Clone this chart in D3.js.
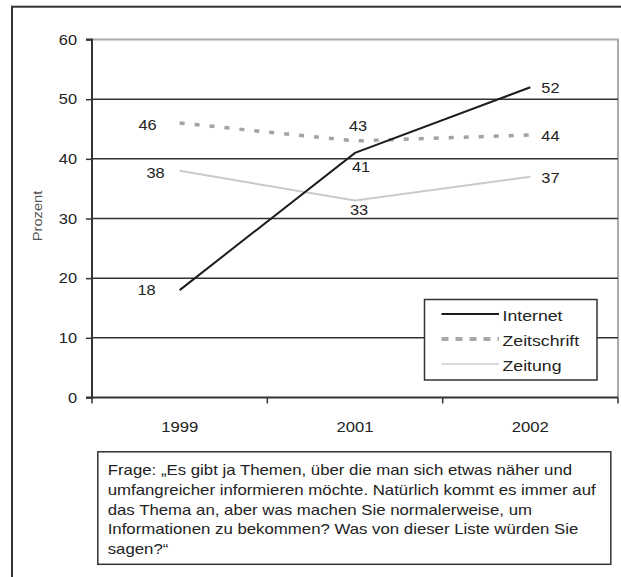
<!DOCTYPE html>
<html>
<head>
<meta charset="utf-8">
<script src="https://cdn.jsdelivr.net/npm/d3@7"></script>
<style>
  html, body { margin: 0; padding: 0; background: #fff; }
  svg { display: block; }
  text { font-family: "Liberation Sans", Arial, sans-serif; fill: #222; }
</style>
</head>
<body>
<svg id="chart" width="621" height="577"></svg>
<script>
// ---- data ----
const years = ["1999", "2001", "2002"];
const internet = [18, 41, 52];
const zeitschrift = [46, 43, 44];
const zeitung = [38, 33, 37];
const seriesNames = ["Internet", "Zeitschrift", "Zeitung"];
const yTicks = [0, 10, 20, 30, 40, 50, 60];
const yTitle = "Prozent";
const questionLines = [
  "Frage: „Es gibt ja Themen, über die man sich etwas näher und",
  "umfangreicher informieren möchte. Natürlich kommt es immer auf",
  "das Thema an, aber was machen Sie normalerweise, um",
  "Informationen zu bekommen? Was von dieser Liste würden Sie",
  "sagen?“"
];

// ---- layout / styles ----
const svg = d3.select("#chart");
const plot = { left: 92, right: 618, top: 39.5, bottom: 397.5 };

const x = d3.scaleBand().domain(years).range([plot.left, plot.right]).paddingInner(0).paddingOuter(0);
const cx = d => x(d) + x.bandwidth() / 2;
const y = d3.scaleLinear().domain([0, 60]).range([plot.bottom, plot.top]);

const styles = {
  Internet:    { stroke: "#1c1c1c", width: 2,   dash: null,   lstroke: "#1c1c1c", lwidth: 2,   ldash: null },
  Zeitschrift: { stroke: "#a3a3a3", width: 3.5, dash: "5 10", lstroke: "#a8a8a8", lwidth: 4,   ldash: "7 7" },
  Zeitung:     { stroke: "#c9c9c9", width: 2,   dash: null,   lstroke: "#cccccc", lwidth: 1.5, ldash: null }
};

// label offsets relative to point (dx, dy, anchor)
const labelPos = {
  Internet:    [[-24, 0, "end"],  [6, 14, "middle"],  [11, 1, "start"]],
  Zeitschrift: [[-23, 2, "end"],  [3, -15, "middle"], [11, 1, "start"]],
  Zeitung:     [[-15, 2, "end"],  [4, 9, "middle"],   [11, 1, "start"]]
};

function sText(g, px, py, str, opt) {
  const o = Object.assign({ size: 14, sx: 1.15, anchor: "start", rotate: 0, fill: "#222" }, opt || {});
  return g.append("text")
    .attr("transform", `translate(${px},${py}) rotate(${o.rotate}) scale(${o.sx},1)`)
    .attr("text-anchor", o.anchor)
    .attr("dy", "0.35em")
    .style("font-size", o.size + "px")
    .style("fill", o.fill)
    .text(str);
}

// outer frame
svg.append("rect")
  .attr("x", 12).attr("y", 6.7).attr("width", 800).attr("height", 800)
  .attr("fill", "none").attr("stroke", "#333").attr("stroke-width", 2);

// plot area border (top and right, light gray)
svg.append("path")
  .attr("d", `M${plot.left},${plot.top}H${plot.right}V${plot.bottom}`)
  .attr("fill", "none").attr("stroke", "#aaaaaa").attr("stroke-width", 2);

// gridlines
const gridG = svg.append("g");
gridG.selectAll("line").data(yTicks.filter(t => t > 0 && t < 60)).join("line")
  .attr("x1", plot.left).attr("x2", plot.right)
  .attr("y1", d => y(d)).attr("y2", d => y(d))
  .attr("stroke", "#333").attr("stroke-width", 1.5);

// y axis
const yAxis = d3.axisLeft(y).tickValues(yTicks).tickSize(6).tickFormat("");
const yg = svg.append("g").attr("transform", `translate(${plot.left},0)`).call(yAxis);
yg.select(".domain").attr("stroke", "#333").attr("stroke-width", 2).attr("d", `M-6,${plot.top}H0V${plot.bottom}H-6`);
yg.selectAll(".tick line").attr("stroke", "#333").attr("stroke-width", 1.5);
const ylab = svg.append("g");
yTicks.forEach(t => sText(ylab, 77, y(t), String(t), { anchor: "end", size: 14.5, sx: 1.13 }));

// x axis
const xAxis = d3.axisBottom(x).tickSize(0).tickFormat("");
const xg = svg.append("g").attr("transform", `translate(0,${plot.bottom})`).call(xAxis);
xg.select(".domain").attr("stroke", "#333").attr("stroke-width", 2).attr("d", `M${plot.left},0H${plot.right}`);
const edges = years.map(d => x(d)).concat([x.range()[1]]);
xg.selectAll("line.edge").data(edges).join("line").attr("class", "edge")
  .attr("x1", d => d).attr("x2", d => d).attr("y1", 0).attr("y2", 6)
  .attr("stroke", "#333").attr("stroke-width", 1.5);
const xlab = svg.append("g");
years.forEach(d => sText(xlab, cx(d), 427, d, { anchor: "middle", size: 14.5, sx: 1.15 }));

// y title
sText(svg.append("g"), 37.5, 216, yTitle, { anchor: "middle", size: 13, sx: 1.13, rotate: -90, fill: "#555" });

// series
const seriesData = { Internet: internet, Zeitschrift: zeitschrift, Zeitung: zeitung };
const line = d3.line().x((v, i) => cx(years[i])).y(v => y(v));
const drawOrder = ["Zeitung", "Zeitschrift", "Internet"];
drawOrder.forEach(name => {
  const s = styles[name];
  svg.append("path").datum(seriesData[name])
    .attr("d", line).attr("fill", "none")
    .attr("stroke", s.stroke).attr("stroke-width", s.width)
    .attr("stroke-dasharray", s.dash);
});

// data labels
const lblG = svg.append("g");
seriesNames.forEach(name => {
  seriesData[name].forEach((v, i) => {
    const p = labelPos[name][i];
    sText(lblG, cx(years[i]) + p[0], y(v) + p[1], String(v), { anchor: p[2], size: 14.5, sx: 1.13 });
  });
});

// legend
const leg = svg.append("g");
leg.append("rect").attr("x", 424.5).attr("y", 299.5).attr("width", 172.5).attr("height", 80.5)
  .attr("fill", "#fff").attr("stroke", "#333").attr("stroke-width", 1.5);
const legY = d3.scalePoint().domain(seriesNames).range([314, 364]);
seriesNames.forEach(name => {
  const s = styles[name];
  leg.append("line").attr("x1", 441.5).attr("x2", 499).attr("y1", legY(name)).attr("y2", legY(name))
    .attr("stroke", s.lstroke).attr("stroke-width", s.lwidth).attr("stroke-dasharray", s.ldash);
  sText(leg, 502.5, legY(name) + 1.5, name, { size: 15, sx: 1.18 });
});

// question text box
const box = svg.append("g");
box.append("rect").attr("x", 97.8).attr("y", 451.8).attr("width", 513).attr("height", 112.5)
  .attr("fill", "#fff").attr("stroke", "#333").attr("stroke-width", 1.5);
questionLines.forEach((t, i) => {
  sText(box, 107.7, 470 + i * 19.8, t, { size: 14, sx: 1.2 });
});
</script>
</body>
</html>
